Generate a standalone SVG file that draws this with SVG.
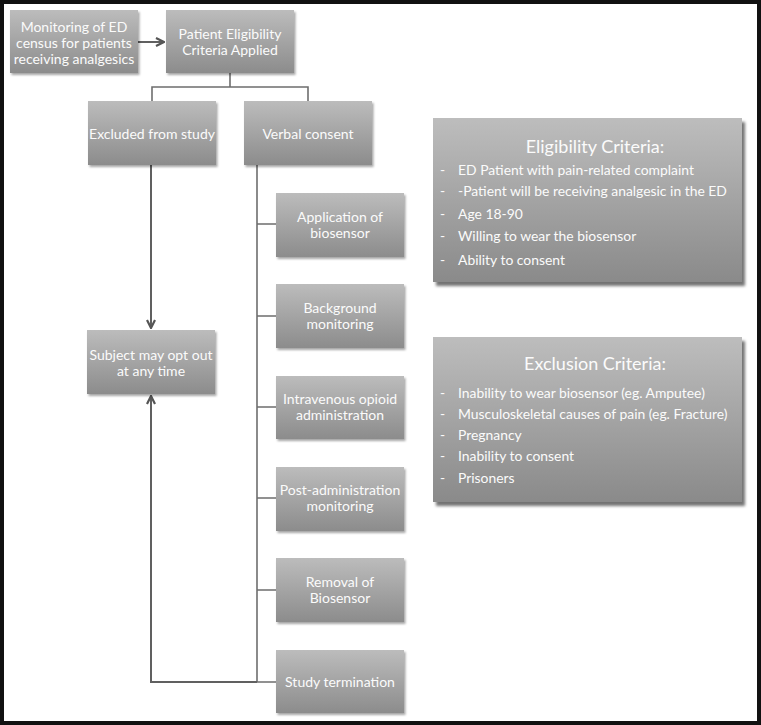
<svg xmlns="http://www.w3.org/2000/svg" width="761" height="725" viewBox="0 0 761 725">
<style>
.box{fill:url(#g);filter:url(#sh)}
.big{fill:url(#g2);filter:url(#sh2)}
text{font-family:Lato,"Liberation Sans",sans-serif;fill:#fbfbfb}
.t{font-size:14px;text-anchor:middle}
.h{font-size:18px;text-anchor:middle}
.i{font-size:13.9px}
.ln{fill:none;stroke:#6e6e6e;stroke-width:1.6}
.ar{fill:none;stroke:#606060;stroke-width:2}
</style>
<defs>
<linearGradient id="g" x1="0" y1="0" x2="0" y2="1">
<stop offset="0" stop-color="#bcbcbc"/><stop offset="1" stop-color="#8c8c8c"/>
</linearGradient>
<linearGradient id="g2" x1="0" y1="0" x2="0" y2="1">
<stop offset="0" stop-color="#bdbdbd"/><stop offset="1" stop-color="#8a8a8a"/>
</linearGradient>
<filter id="sh" x="-10%" y="-10%" width="130%" height="140%">
<feDropShadow dx="1.5" dy="2" stdDeviation="1.2" flood-color="#000" flood-opacity="0.35"/>
</filter>
<filter id="sh2" x="-10%" y="-10%" width="130%" height="130%">
<feDropShadow dx="3" dy="4" stdDeviation="1.8" flood-color="#000" flood-opacity="0.55"/>
</filter>
<marker id="a" viewBox="0 0 10 10" refX="9" refY="5" markerWidth="10" markerHeight="10" markerUnits="userSpaceOnUse" orient="auto">
<path d="M1,1 L9,5 L1,9" fill="none" stroke="#555" stroke-width="2.2"/>
</marker>
</defs>
<rect x="2" y="2" width="757" height="721" fill="#fff" stroke="#111" stroke-width="4"/>

<g id="connectors">
<path class="ar" d="M138,42 H164" marker-end="url(#a)"/>
<path class="ln" d="M230,73 V87 M152,101 V87 H308 V101"/>
<path class="ar" d="M151,165 V328" marker-end="url(#a)"/>
<path class="ln" d="M257,165 V682 M257,224 H276 M257,316 H276 M257,407 H276 M257,498 H276 M257,590 H276 M257,682 H276"/>
<path class="ar" d="M257,682 H151 V396" marker-end="url(#a)"/>
</g>

<g id="monitoring"><rect class="box" x="10" y="10" width="128" height="63"/>
<text class="t" x="74" y="32">Monitoring of ED</text><text class="t" x="74" y="48">census for patients</text><text class="t" x="74" y="64">receiving analgesics</text></g>
<g id="eligibility-applied"><rect class="box" x="166" y="10" width="128" height="63"/>
<text class="t" x="230" y="39">Patient Eligibility</text><text class="t" x="230" y="55">Criteria Applied</text></g>
<g id="excluded"><rect class="box" x="88" y="101" width="128" height="64"/>
<text class="t" x="152" y="139">Excluded from study</text></g>
<g id="verbal"><rect class="box" x="244" y="101" width="128" height="64"/>
<text class="t" x="308" y="139">Verbal consent</text></g>
<g id="subject"><rect class="box" x="87" y="330" width="128" height="64"/>
<text class="t" x="151" y="360">Subject may opt out</text><text class="t" x="151" y="376">at any time</text></g>
<g id="application"><rect class="box" x="276" y="193" width="128" height="64"/>
<text class="t" x="340" y="222">Application of</text><text class="t" x="340" y="238">biosensor</text></g>
<g id="background"><rect class="box" x="276" y="284" width="128" height="64"/>
<text class="t" x="340" y="313">Background</text><text class="t" x="340" y="329">monitoring</text></g>
<g id="iv"><rect class="box" x="276" y="376" width="128" height="63"/>
<text class="t" x="340" y="404">Intravenous opioid</text><text class="t" x="340" y="420">administration</text></g>
<g id="post"><rect class="box" x="276" y="467" width="128" height="64"/>
<text class="t" x="340" y="495">Post-administration</text><text class="t" x="340" y="511">monitoring</text></g>
<g id="removal"><rect class="box" x="276" y="558" width="128" height="64"/>
<text class="t" x="340" y="587">Removal of</text><text class="t" x="340" y="603">Biosensor</text></g>
<g id="termination"><rect class="box" x="276" y="650" width="128" height="63"/>
<text class="t" x="340" y="687">Study termination</text></g>

<g id="eligibility-criteria"><rect class="big" x="433" y="118" width="309" height="164"/>
<text class="h" x="595" y="153">Eligibility Criteria:</text>
<text class="i" x="440" y="175">-</text><text class="i" x="458" y="175">ED Patient with pain-related complaint</text>
<text class="i" x="440" y="196">-</text><text class="i" x="458" y="196">-Patient will be receiving analgesic in the ED</text>
<text class="i" x="440" y="219">-</text><text class="i" x="458" y="219">Age 18-90</text>
<text class="i" x="440" y="241">-</text><text class="i" x="458" y="241">Willing to wear the biosensor</text>
<text class="i" x="440" y="265">-</text><text class="i" x="458" y="265">Ability to consent</text></g>

<g id="exclusion-criteria"><rect class="big" x="433" y="337" width="309" height="165"/>
<text class="h" x="595" y="370">Exclusion Criteria:</text>
<text class="i" x="440" y="398">-</text><text class="i" x="458" y="398">Inability to wear biosensor (eg. Amputee)</text>
<text class="i" x="440" y="419">-</text><text class="i" x="458" y="419">Musculoskeletal causes of pain (eg. Fracture)</text>
<text class="i" x="440" y="440">-</text><text class="i" x="458" y="440">Pregnancy</text>
<text class="i" x="440" y="461">-</text><text class="i" x="458" y="461">Inability to consent</text>
<text class="i" x="440" y="483">-</text><text class="i" x="458" y="483">Prisoners</text></g>
</svg>
